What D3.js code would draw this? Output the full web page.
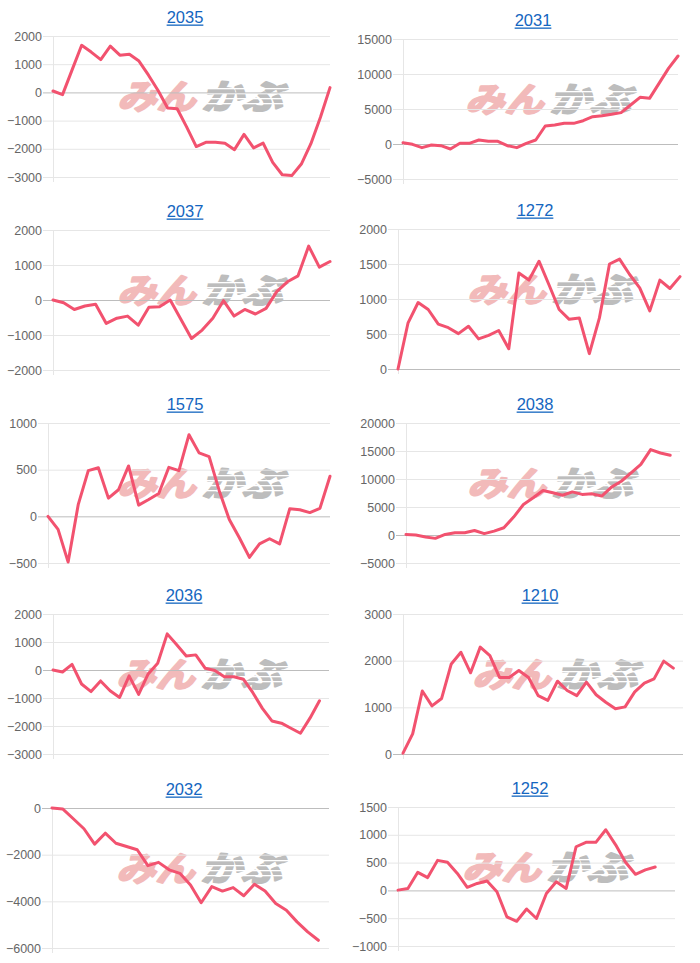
<!DOCTYPE html>
<html><head><meta charset="utf-8">
<script src="https://cdn.jsdelivr.net/npm/d3@7"></script>
<style>body{margin:0;background:#fff;} svg{display:block;}</style>
</head><body>
<svg id="c" width="700" height="963"></svg>
<script>
// ---- data ----
const titles = ["2035","2031","2037","1272","1575","2038","2036","1210","2032","1252"];

const s2035 = [50,-80,800,1670,1430,1160,1640,1320,1350,1110,610,70,-550,-580,-1230,-1920,-1770,-1770,-1800,-2030,-1490,-1970,-1800,-2480,-2920,-2950,-2540,-1820,-880,170];
const s2031 = [190,-50,-520,-140,-240,-710,100,100,570,380,380,-240,-520,100,570,2570,2710,2950,2950,3330,3900,4050,4240,4480,5570,6670,6520,8660,10800,12570];
const s2037 = [0,-80,-270,-170,-120,-670,-520,-460,-720,-210,-190,0,-550,-1100,-860,-520,-20,-460,-270,-400,-240,240,520,690,1540,940,1100];
const s1272 = [0,660,950,850,640,590,505,610,430,480,550,290,1370,1270,1540,1200,850,710,730,220,730,1500,1570,1350,1160,830,1270,1150,1320];
const s1575 = [0,-140,-490,125,490,520,195,285,540,120,180,245,525,490,875,680,640,275,-35,-230,-440,-295,-240,-295,80,70,40,85,430];
const s2038 = [100,0,-350,-600,100,400,400,800,250,700,1300,3200,5450,6650,7950,7550,7100,7700,7250,7350,6950,8550,9600,11100,12600,15250,14650,14250,null];
const s2036 = [0,-70,200,-500,-770,-390,-740,-980,-210,-870,-140,240,1290,900,500,540,60,-20,-240,-240,-330,-810,-1370,-1820,-1900,-2080,-2260,-1720,-1100,null];
const s1210 = [20,430,1350,1030,1190,1930,2180,1740,2290,2110,1640,1640,1790,1640,1250,1150,1560,1360,1250,1540,1270,1110,970,1010,1330,1520,1610,1990,1840,null];
const s2032 = [0,-40,-460,-890,-1550,-1080,-1510,-1650,-1790,-2470,-2330,-2650,-2800,-3300,-4060,-3370,-3560,-3410,-3760,-3270,-3560,-4090,-4380,-4880,-5310,-5670,null];
const s1252 = [5,35,325,230,540,505,305,55,125,170,-25,-475,-555,-335,-505,-55,155,35,785,865,865,1090,820,505,290,370,420,null,null];

const series = [s2035,s2031,s2037,s1272,s1575,s2038,s2036,s1210,s2032,s1252];

const t2035 = [-3000,-2000,-1000,0,1000,2000];
const t2031 = [-5000,0,5000,10000,15000];
const t2037 = [-2000,-1000,0,1000,2000];
const t1272 = [0,500,1000,1500,2000];
const t1575 = [-500,0,500,1000];
const t2038 = [-5000,0,5000,10000,15000,20000];
const t2036 = [-3000,-2000,-1000,0,1000,2000];
const t1210 = [0,1000,2000,3000];
const t2032 = [-6000,-4000,-2000,0];
const t1252 = [-1000,-500,0,500,1000,1500];
const tickSets = [t2035,t2031,t2037,t1272,t1575,t2038,t2036,t1210,t2032,t1252];

// ---- layout (plot boxes) ----
const layout = [
  {l:53,  r:330, t:36,  b:177, tx:185},
  {l:403, r:678, t:39,  b:179, tx:533},
  {l:53,  r:330, t:230, b:370, tx:185},
  {l:398, r:680, t:229, b:369, tx:535},
  {l:48,  r:330, t:423, b:563, tx:185},
  {l:406, r:680, t:423, b:563, tx:535},
  {l:53,  r:329, t:614, b:754, tx:184},
  {l:403, r:683, t:614, b:754, tx:540},
  {l:52,  r:329, t:808, b:948, tx:184},
  {l:398, r:675, t:807, b:946, tx:530}
];

const LINE = "#f2526f";
const svg = d3.select("#c");
svg.append("rect").attr("width",700).attr("height",963).attr("fill","#fff");

series.forEach((vals, k) => {
  const L = layout[k];
  const ticks = tickSets[k];
  const g = svg.append("g");
  const x = d3.scalePoint().domain(d3.range(vals.length)).range([L.l, L.r]);
  const y = d3.scaleLinear().domain(d3.extent(ticks)).range([L.b, L.t]);

  // watermark
  const cx = L.tx + 18, cy = L.t + 60;
  const wm = g.append("g");
  wm.append("text").attr("transform", `translate(${cx-82},${cy}) skewX(-16) scale(1.15,1)`)
    .attr("dy","0.38em")
    .attr("font-family","'Noto Sans CJK JP'").attr("font-weight",700).attr("font-size",34)
    .attr("fill","#f2baba").attr("stroke","#f2baba").attr("stroke-width",2.2).attr("stroke-linejoin","round")
    .text("みん");
  wm.append("text").attr("transform", `translate(${cx+2},${cy}) skewX(-16) scale(1.2,1)`)
    .attr("dy","0.38em")
    .attr("font-family","'Noto Sans CJK JP'").attr("font-weight",700).attr("font-size",34)
    .attr("fill","#bdbdbd").attr("stroke","#bdbdbd").attr("stroke-width",2.2).attr("stroke-linejoin","round")
    .text("かぶ");
  [-8,-3,2,7].forEach(o => {
    wm.append("rect").attr("x",cx+2).attr("y",cy+o).attr("width",86).attr("height",1.3).attr("fill","#fff");
  });

  // y axis with gridlines
  const W = L.r - L.l;
  const ax = g.append("g").attr("transform",`translate(${L.l-10},0)`)
    .call(d3.axisLeft(y).tickValues(ticks).tickSize(-(W+10)).tickPadding(1).tickFormat(d3.format("d")));
  ax.select(".domain").remove();
  ax.selectAll(".tick line").attr("stroke", d => d === 0 ? "#bdbdbd" : "#e6e6e6").attr("stroke-width",1);
  ax.selectAll(".tick text").attr("fill","#666").attr("font-family","'Liberation Sans', Arial, sans-serif")
    .attr("font-size",12.5);
  // left border
  g.append("line").attr("x1",L.l+0.5).attr("x2",L.l+0.5).attr("y1",L.t).attr("y2",L.b+5)
    .attr("stroke","#e6e6e6");

  // line
  const line = d3.line().defined(d => d != null).x((d,i) => x(i)).y(d => y(d));
  g.append("path").datum(vals).attr("d", line).attr("fill","none")
    .attr("stroke",LINE).attr("stroke-width",3).attr("stroke-linejoin","round").attr("stroke-linecap","round");

  // title
  const tt = g.append("text").attr("x",L.tx).attr("y",L.t-13).attr("text-anchor","middle")
    .attr("font-family","'Liberation Sans', Arial, sans-serif").attr("font-size",16.5)
    .attr("fill","#1466c0").text(titles[k]);
  const tw = tt.node().getComputedTextLength();
  g.append("rect").attr("x",L.tx - tw/2).attr("y",L.t-11.5).attr("width",tw).attr("height",1.3).attr("fill","#1466c0");
});
</script>
</body></html>
